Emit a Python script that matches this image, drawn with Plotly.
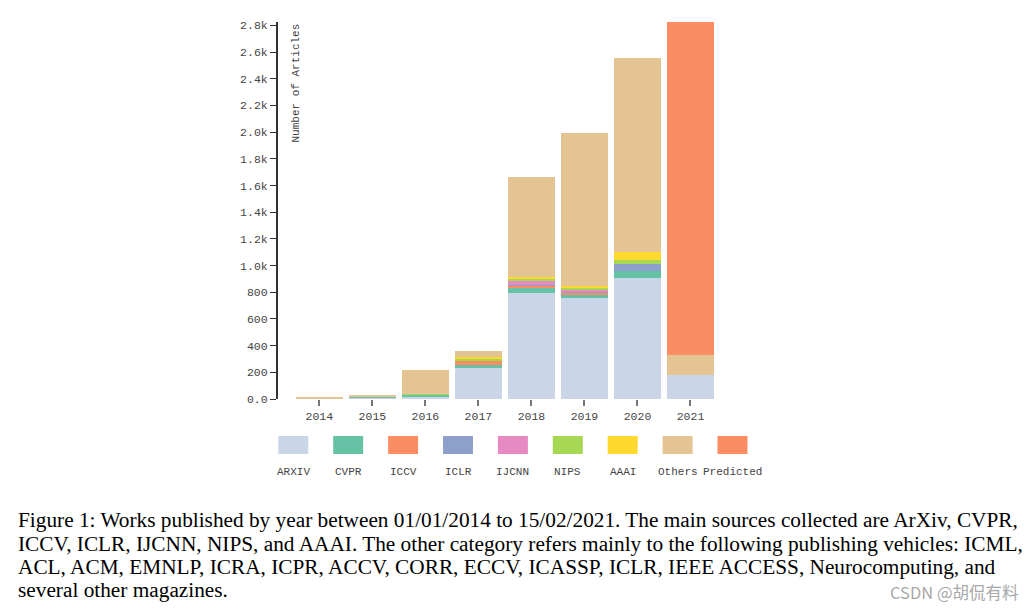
import plotly.graph_objects as go

years = ["2014", "2015", "2016", "2017", "2018", "2019", "2020", "2021"]
arxiv = [0, 12, 15, 232, 797, 760, 905, 178]
cvpr = [0, 3, 17, 25, 40, 25, 55, 0]
iccv = [0, 0, 0, 30, 10, 12, 0, 0]
iclr = [0, 0, 0, 0, 10, 12, 52, 0]
ijcnn = [0, 0, 0, 0, 25, 5, 0, 0]
nips = [0, 0, 8, 15, 15, 15, 28, 0]
aaai = [0, 0, 0, 15, 15, 15, 62, 0]
others = [8, 10, 175, 43, 753, 1146, 1450, 152]
predicted = [0, 0, 0, 0, 0, 0, 0, 2495]

series_names = ["ARXIV", "CVPR", "ICCV", "ICLR", "IJCNN", "NIPS", "AAAI", "Others", "Predicted"]
series_values = [arxiv, cvpr, iccv, iclr, ijcnn, nips, aaai, others, predicted]
colors = ["#cbd5e8", "#66c2a5", "#fc8d62", "#8da0cb", "#e78ac3", "#a6d854", "#ffd92f", "#e5c494", "#fc8d62"]

y_tickvals = [0, 200, 400, 600, 800, 1000, 1200, 1400, 1600, 1800, 2000, 2200, 2400, 2600, 2800]
y_ticktext = ["0.0", "200", "400", "600", "800", "1.0k", "1.2k", "1.4k", "1.6k", "1.8k", "2.0k", "2.2k", "2.4k", "2.6k", "2.8k"]

caption_lines = [
    "Figure 1: Works published by year between 01/01/2014 to 15/02/2021. The main sources collected are ArXiv, CVPR,",
    "ICCV, ICLR, IJCNN, NIPS, and AAAI. The other category refers mainly to the following publishing vehicles: ICML,",
    "ACL, ACM, EMNLP, ICRA, ICPR, ACCV, CORR, ECCV, ICASSP, ICLR, IEEE ACCESS, Neurocomputing, and",
    "several other magazines.",
]

# page offset (body margin) of the html page
OFF = 8
W, H = 1034 - OFF, 612 - OFF
# plot area in screen pixels
SL, SR, ST, SB = 278, 717, 22, 399
L, R, T, B = SL - OFF, SR - OFF, ST - OFF, SB - OFF
MONO = "Liberation Mono, Courier New, monospace"


def px(x):
    return (x - SL) / (SR - SL)


def py(y):
    return (SB - y) / (SB - ST)


fig = go.Figure()
for name, vals, col in zip(series_names, series_values, colors):
    fig.add_trace(go.Bar(
        x=years, y=vals, name=name,
        marker=dict(color=col, line=dict(width=0)),
        showlegend=False,
    ))

shapes = []
annotations = []
for i, (name, col) in enumerate(zip(series_names, colors)):
    x0 = 278.3 + i * 54.9
    shapes.append(dict(type="rect", xref="paper", yref="paper",
                       x0=px(x0), x1=px(x0 + 30), y0=py(454), y1=py(436),
                       fillcolor=col, line=dict(width=0)))
    annotations.append(dict(text=name, xref="paper", yref="paper",
                            x=px(x0 + 15), y=py(472.5), xanchor="center", yanchor="middle",
                            showarrow=False, font=dict(family=MONO, size=11, color="#444")))

annotations.append(dict(text="Number of Articles", xref="paper", yref="paper",
                        x=px(295), y=py(22), xanchor="center", yanchor="top",
                        textangle=-90, showarrow=False,
                        font=dict(family=MONO, size=11, color="#444")))

line_y = [520, 543.5, 566.5, 590]
for txt, yy in zip(caption_lines, line_y):
    annotations.append(dict(text=txt, xref="paper", yref="paper",
                            x=px(16), y=py(yy), xanchor="left", yanchor="middle",
                            showarrow=False,
                            font=dict(family="Liberation Serif, Times New Roman, serif", size=21.3, color="#000")))

annotations.append(dict(text="CSDN @胡侃有料", xref="paper", yref="paper",
                        x=px(1021), y=py(592), xanchor="right", yanchor="middle",
                        showarrow=False,
                        font=dict(family="Noto Sans CJK SC, sans-serif", size=16.5, color="#a8a8a8")))

fig.update_layout(
    barmode="stack",
    bargap=0.1,
    width=W, height=H,
    margin=dict(l=L, r=W - R, t=T, b=H - B, pad=0),
    paper_bgcolor="white", plot_bgcolor="white",
    shapes=shapes, annotations=annotations,
    showlegend=False,
    xaxis=dict(type="category", range=[-0.78, 7.5], showgrid=False, zeroline=False,
               showline=False, ticks="outside", ticklen=6, tickwidth=2, tickcolor="#777",
               tickfont=dict(family=MONO, size=11.5, color="#444")),
    yaxis=dict(range=[0, 2825], showgrid=False, zeroline=False, showline=True,
               linecolor="#333", linewidth=2, ticks="outside", ticklen=6, tickwidth=1,
               tickcolor="#333", tickvals=y_tickvals, ticktext=y_ticktext,
               tickfont=dict(family=MONO, size=11.5, color="#444")),
)

fig.write_html("out.html")
